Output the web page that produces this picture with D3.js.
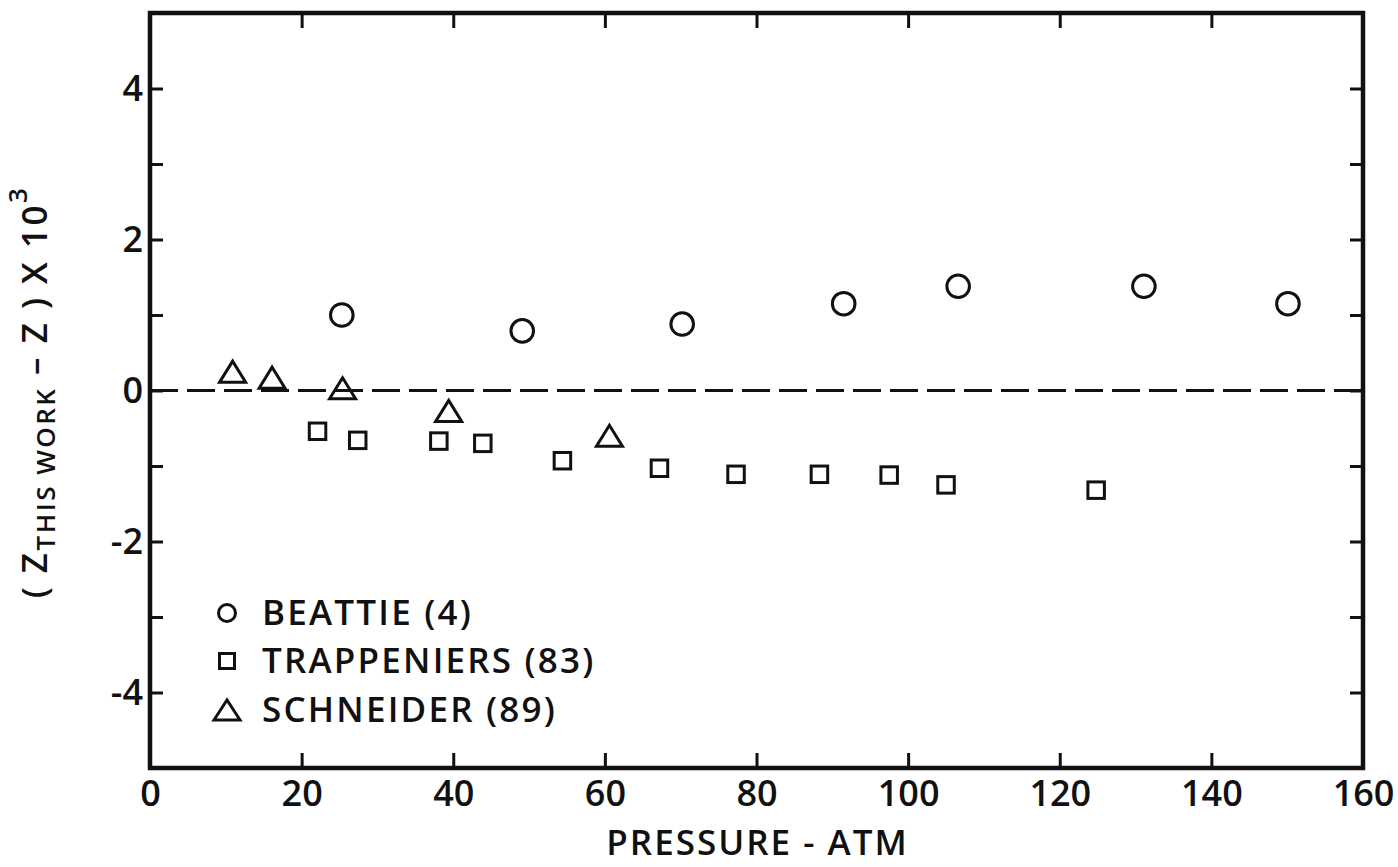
<!DOCTYPE html>
<html>
<head>
<meta charset="utf-8">
<script src="https://cdn.jsdelivr.net/npm/d3@7"></script>
<style>
  html, body { margin: 0; padding: 0; background: #ffffff; }
  svg { display: block; }
  text { font-family: "Open Sans", "DejaVu Sans", sans-serif; font-weight: 600; fill: #111; }
</style>
</head>
<body>
<script>
// ---- data (pressure in atm, deviation (Z_this work - Z) x 10^3) ----
const beattieP  = [25.3, 49.1, 70.2, 91.5, 106.6, 131.1, 150.1];
const beattieDZ = [1.00, 0.79, 0.88, 1.15, 1.38, 1.38, 1.15];

const trappP  = [22.1, 27.4, 38.1, 43.9, 54.4, 67.2, 77.3, 88.3, 97.5, 105.0, 124.8];
const trappDZ = [-0.54, -0.66, -0.67, -0.70, -0.93, -1.03, -1.11, -1.11, -1.12, -1.25, -1.32];

const schneiderP  = [10.9, 16.1, 25.4, 39.4, 60.6];
const schneiderDZ = [0.25, 0.17, 0.03, -0.27, -0.60];

const xTicks = [0, 20, 40, 60, 80, 100, 120, 140, 160];
const yTicks = [-4, -3, -2, -1, 0, 1, 2, 3, 4];
const yTickLabels = [-4, -2, 0, 2, 4];

const legendLabels = ["BEATTIE (4)", "TRAPPENIERS (83)", "SCHNEIDER (89)"];
const xTitle = "PRESSURE - ATM";

// ---- layout ----
const W = 1398, H = 867;
const L = 150, R = 1363, T = 13, B = 768;

const svg = d3.select("body").append("svg").attr("width", W).attr("height", H);

const x = d3.scaleLinear().domain([0, 160]).range([L, R]);
const y = d3.scaleLinear().domain([-5, 5]).range([B, T]);

const ink = "#111";
const fmt = d => (d < 0 ? "-" + Math.abs(d) : String(d));

// bottom axis with labels
const gB = svg.append("g").attr("transform", `translate(0,${B})`)
  .call(d3.axisBottom(x).tickValues(xTicks).tickSizeInner(-15).tickSizeOuter(0).tickPadding(12).tickFormat(fmt));
// top axis (ticks only)
const gT = svg.append("g").attr("transform", `translate(0,${T})`)
  .call(d3.axisTop(x).tickValues(xTicks).tickSizeInner(-15).tickSizeOuter(0).tickFormat(""));
// left axis with labels
const gL = svg.append("g").attr("transform", `translate(${L},0)`)
  .call(d3.axisLeft(y).tickValues(yTicks).tickSizeInner(-13).tickSizeOuter(0).tickPadding(7)
    .tickFormat(d => yTickLabels.includes(d) ? fmt(d) : ""));
// right axis (ticks only)
const gR = svg.append("g").attr("transform", `translate(${R},0)`)
  .call(d3.axisRight(y).tickValues(yTicks).tickSizeInner(-13).tickSizeOuter(0).tickFormat(""));

[gB, gT, gL, gR].forEach(g => {
  g.select(".domain").remove();
  g.selectAll(".tick line").attr("stroke", ink).attr("stroke-width", 3);
  g.selectAll(".tick text").attr("fill", ink).style("font-size", "36px")
    .style("font-family", '"Open Sans", sans-serif').style("font-weight", 600);
});

// frame
svg.append("rect").attr("x", L).attr("y", T).attr("width", R - L).attr("height", B - T)
  .attr("fill", "none").attr("stroke", ink).attr("stroke-width", 4.5);

// zero dashed line
svg.append("line").attr("x1", x(0)).attr("x2", x(160)).attr("y1", y(0)).attr("y2", y(0))
  .attr("stroke", ink).attr("stroke-width", 3).attr("stroke-dasharray", "28 9");

// marker helpers
const triPath = (cx, cy, w, h) => `M${cx - w / 2},${cy + h / 2}L${cx},${cy - h / 2}L${cx + w / 2},${cy + h / 2}Z`;

const gData = svg.append("g").attr("fill", "none").attr("stroke", ink).attr("stroke-width", 3);

gData.selectAll("circle.b").data(d3.zip(beattieP, beattieDZ)).join("circle")
  .attr("class", "b").attr("cx", d => x(d[0])).attr("cy", d => y(d[1])).attr("r", 11.3);

const sq = 16.5;
gData.selectAll("rect.t").data(d3.zip(trappP, trappDZ)).join("rect")
  .attr("class", "t").attr("x", d => x(d[0]) - sq / 2).attr("y", d => y(d[1]) - sq / 2)
  .attr("width", sq).attr("height", sq);

gData.selectAll("path.s").data(d3.zip(schneiderP, schneiderDZ)).join("path")
  .attr("class", "s").attr("d", d => triPath(x(d[0]), y(d[1]), 26, 21))
  .attr("stroke-linejoin", "miter");

// legend
const legX = 227, legTextX = 262, legBase = [625, 673, 722];
const gLeg = svg.append("g");
gLeg.append("circle").attr("cx", legX).attr("cy", legBase[0] - 12).attr("r", 8.5)
  .attr("fill", "none").attr("stroke", ink).attr("stroke-width", 3);
gLeg.append("rect").attr("x", legX - 7.5).attr("y", legBase[1] - 12 - 7.5).attr("width", 15).attr("height", 15)
  .attr("fill", "none").attr("stroke", ink).attr("stroke-width", 3);
gLeg.append("path").attr("d", triPath(legX, legBase[2] - 12, 26, 20))
  .attr("fill", "none").attr("stroke", ink).attr("stroke-width", 3);
gLeg.selectAll("text").data(legendLabels).join("text")
  .attr("x", legTextX).attr("y", (d, i) => legBase[i])
  .style("font-size", "35px").style("letter-spacing", "2.2px").text(d => d);

// x title
svg.append("text").attr("x", (L + R) / 2 + 1).attr("y", 855).attr("text-anchor", "middle")
  .style("font-size", "35px").style("letter-spacing", "2px").text(xTitle);

// y title (rotated)
const yt = svg.append("text").attr("transform", "translate(47,392) rotate(-90)")
  .attr("text-anchor", "middle").style("font-size", "35px").style("letter-spacing", "2.5px");
yt.append("tspan").text("( Z");
yt.append("tspan").attr("dy", 8).style("font-size", "26px").text("THIS WORK");
yt.append("tspan").attr("dy", -8).text(" \u2013 Z )  X  10");
yt.append("tspan").attr("dy", -20).style("font-size", "26px").text("3");
</script>
</body>
</html>
